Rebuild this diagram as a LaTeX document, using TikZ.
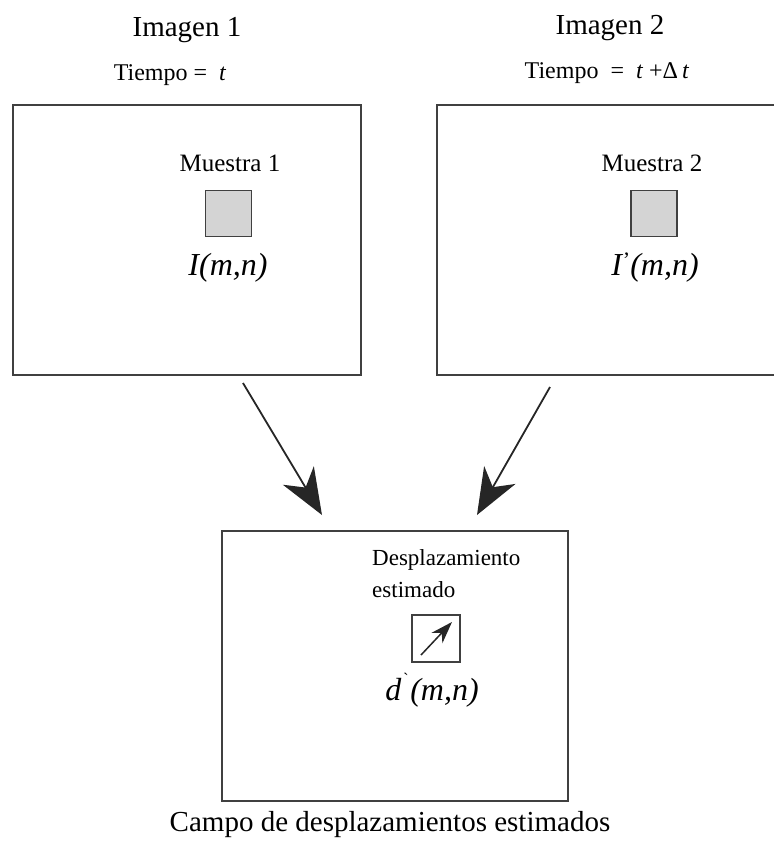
\documentclass[tikz,border=0pt]{standalone}
\usepackage{fontspec}
\setmainfont{Liberation Serif}
\usetikzlibrary{arrows.meta}
\definecolor{edge}{HTML}{404040}
\definecolor{sample}{HTML}{D4D4D4}
\begin{document}
\begin{tikzpicture}[x=1pt,y=-1pt,
  frame/.style={draw=edge,line width=2pt,inner sep=0pt,outer sep=0pt},
  samplebox/.style={draw=edge,fill=sample,line width=1.6pt,inner sep=0pt,minimum width=46pt,minimum height=46pt},
  title/.style={font=\fontsize{29}{32}\selectfont,inner sep=0pt},
  sub/.style={font=\fontsize{24}{27}\selectfont,inner sep=0pt},
  lbl/.style={font=\fontsize{25}{28}\selectfont,inner sep=0pt},
  dlbl/.style={font=\fontsize{23}{26}\selectfont,inner sep=0pt},
  fn/.style={font=\fontsize{32}{35}\selectfont\itshape,inner sep=0pt},
  bigarrow/.style={draw=black!85,line width=1.8pt,-{Stealth[length=46pt,width=36pt,inset=14pt]}}]
\useasboundingbox (0,0) rectangle (774,844);
% frames
\node[frame,minimum width=348pt,minimum height=270pt] (im1) at (187,240) {};
\node[frame,minimum width=345pt,minimum height=270pt,anchor=north west] (im2) at (437,105) {};
\node[frame,minimum width=346pt,minimum height=270pt] (campo) at (395,666) {};
% headings
\node[title] (t1) at (187,30) {Imagen 1};
\node[sub] (tt1) at (170,75) {Tiempo = \ \textit{t}};
\node[title] (t2) at (610,28) {Imagen 2};
\node[sub] (tt2) at (607,73) {Tiempo \ = \ \textit{t} +Δ\,\textit{t}};
% samples
\node[lbl] (m1) at (230,163) {Muestra 1};
\node[samplebox] (s1) at (228.5,213.5) {};
\node[fn] (f1) at (228,268) {I(m,n)};
\node[lbl] (m2) at (652,163) {Muestra 2};
\node[samplebox] (s2) at (654,213.5) {};
\node[fn] (f2) at (655,268) {I\kern1pt\raisebox{0.55ex}{\upshape\fontsize{22}{22}\selectfont\char"0027}(m,n)};
% displacement
\node[dlbl,anchor=west] (dl1) at (372,560) {Desplazamiento};
\node[dlbl,anchor=west] (dl2) at (372,590) {estimado};
\node[draw=edge,line width=1.6pt,inner sep=0pt,minimum width=48pt,minimum height=47pt] (dbox) at (436,638.5) {};
\coordinate (da) at (421,655);
\coordinate (db) at (452,622);
\draw[black!85,line width=1.5pt,-{Stealth[length=22pt,width=15pt,inset=7pt]}] (da) -- (db);
\node[fn] (fd) at (432,690) {d\kern3pt\raisebox{0.9ex}{\upshape\fontsize{16}{16}\selectfont\`{}}\kern2pt(m,n)};
% caption
\node[title] (cap) at (390,825) {Campo de desplazamientos estimados};
% arrows
\coordinate (a1s) at (243,383);
\coordinate (a1e) at (322,515);
\coordinate (a2s) at (550,387);
\coordinate (a2e) at (477,515);
\draw[bigarrow] (a1s) -- (a1e);
\draw[bigarrow] (a2s) -- (a2e);
\end{tikzpicture}
\end{document}
